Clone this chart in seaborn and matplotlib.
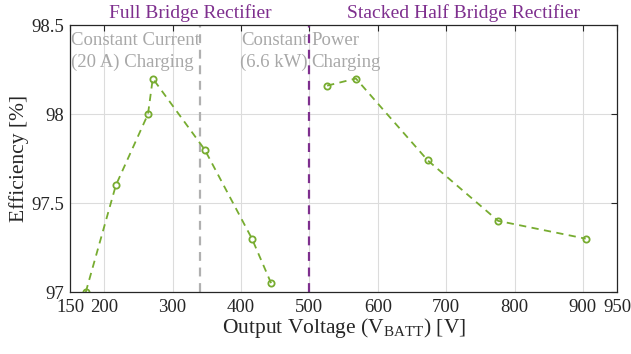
import matplotlib
matplotlib.use("Agg")
import matplotlib.pyplot as plt
import seaborn as sns
import pandas as pd

# Data
fb_voltage = [173, 217, 264, 271, 347, 416, 444]
fb_eff = [97.0, 97.6, 98.0, 98.2, 97.8, 97.3, 97.05]
shb_voltage = [526, 568, 673, 776, 904]
shb_eff = [98.16, 98.2, 97.74, 97.4, 97.3]
cc_cp_boundary = 340
topology_boundary = 500
xticks = [150, 200, 300, 400, 500, 600, 700, 800, 900, 950]
yticks = [97, 97.5, 98, 98.5]
ytick_labels = ["97", "97.5", "98", "98.5"]

df = pd.DataFrame({
    "V": fb_voltage + shb_voltage,
    "eff": fb_eff + shb_eff,
    "seg": ["fb"] * len(fb_voltage) + ["shb"] * len(shb_voltage),
})

sns.set_theme(style="white")
plt.rcParams["font.family"] = ["Liberation Serif", "DejaVu Serif"]
plt.rcParams["mathtext.fontset"] = "custom"
plt.rcParams["mathtext.rm"] = "Liberation Serif"

fig = plt.figure(figsize=(6.31, 3.54), dpi=100)
ax = fig.add_axes([0.111, 0.175, 0.867, 0.754])

green = "#77ac30"
purple = "#7e2f8e"
gray = "#a8a8a8"

sns.lineplot(data=df, x="V", y="eff", units="seg", estimator=None, ax=ax,
             color=green, linestyle=(0, (4, 3)), linewidth=1.3, marker="o",
             markersize=4.5, markerfacecolor="none", markeredgecolor=green,
             markeredgewidth=1.3, legend=False)

ax.axvline(cc_cp_boundary, color="#b0b0b0", linestyle=(0, (4, 3)), linewidth=1.6, zorder=1)
ax.axvline(topology_boundary, color=purple, linestyle=(0, (4, 3)), linewidth=1.6, zorder=1)

ax.set_xlim(150, 950)
ax.set_ylim(97, 98.5)
ax.set_xticks(xticks)
ax.set_xticklabels([str(t) for t in xticks])
ax.set_yticks(yticks)
ax.set_yticklabels(ytick_labels)
ax.grid(True, color="#dcdcdc", linewidth=0.8)
ax.set_axisbelow(True)
ax.tick_params(direction="in", top=True, right=True, length=4, width=0.8,
               labelsize=13.5, colors="#262626")
ax.tick_params(axis="x", pad=5)
ax.tick_params(axis="y", pad=4)
for s in ax.spines.values():
    s.set_color("#262626")
    s.set_linewidth(0.9)

ax.set_xlabel(r"Output Voltage (V$_{\mathrm{BATT}}$) [V]", fontsize=15.5, color="#262626", labelpad=0)
ax.set_ylabel("Efficiency [%]", fontsize=15.5, color="#262626", labelpad=2)

tcfg = dict(fontsize=13.5, color=gray, va="top", linespacing=1.35)
ax.text(151, 98.46, "Constant Current\n(20 A) Charging", ha="left", **tcfg)
ax.text(498, 98.46, "Constant\n(6.6 kW)", ha="right", **tcfg)
ax.text(503, 98.46, "Power\nCharging", ha="left", **tcfg)

ax.text(326, 98.52, "Full Bridge Rectifier", ha="center", va="bottom",
        fontsize=14, color=purple)
ax.text(725, 98.52, "Stacked Half Bridge Rectifier", ha="center", va="bottom",
        fontsize=14, color=purple)

fig.savefig("out.png", dpi=100)
